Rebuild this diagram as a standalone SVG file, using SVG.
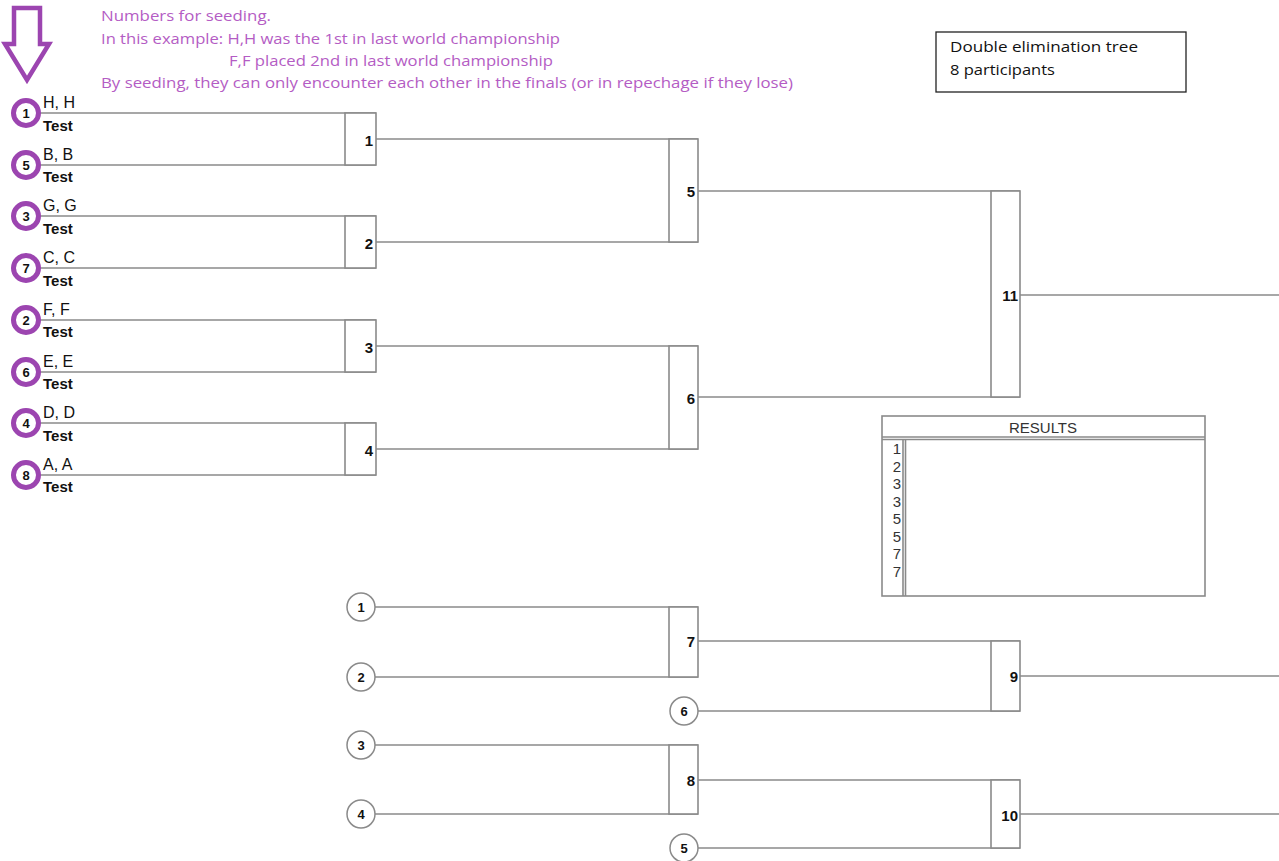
<svg xmlns="http://www.w3.org/2000/svg" width="1279" height="861" viewBox="0 0 1279 861">
<style>
.ln{stroke:#8a8a8a;stroke-width:1.6;fill:none}
.bx{stroke:#8a8a8a;stroke-width:1.6;fill:#fff}
.num{font-family:"Liberation Sans",Arial,sans-serif;font-weight:bold;font-size:15px;fill:#111}
.nm{font-family:"Liberation Sans",Arial,sans-serif;font-size:16px;fill:#111}
.ts{font-family:"Liberation Sans",Arial,sans-serif;font-size:15px;font-weight:bold;fill:#111}
.seed{stroke:#9c45b0;stroke-width:5;fill:#fff}
.sn{font-family:"Liberation Sans",Arial,sans-serif;font-size:13px;font-weight:bold;fill:#111;text-anchor:middle}
.lc{stroke:#8a8a8a;stroke-width:1.5;fill:#fff}
.note{font-family:"Open Sans","Liberation Sans",sans-serif;font-size:15px;fill:#b45cc4}
.info{font-family:"Open Sans","Liberation Sans",sans-serif;font-size:15px;fill:#111}
.res{font-family:"Liberation Sans",Arial,sans-serif;font-size:15px;fill:#333}
</style>
<rect width="1279" height="861" fill="#fff"/>
<g id="annotation">
<polygon points="14,8 40,8 40,44 49,44 27,80 5,44 14,44" fill="none" stroke="#9c45b0" stroke-width="4.5" stroke-linejoin="miter"/>
<text class="note" x="101" y="21" textLength="170" lengthAdjust="spacingAndGlyphs">Numbers for seeding.</text>
<text class="note" x="101" y="44" textLength="459" lengthAdjust="spacingAndGlyphs">In this example: H,H was the 1st in last world championship</text>
<text class="note" x="229" y="66" textLength="324" lengthAdjust="spacingAndGlyphs">F,F placed 2nd in last world championship</text>
<text class="note" x="101" y="88" textLength="692" lengthAdjust="spacingAndGlyphs">By seeding, they can only encounter each other in the finals (or in repechage if they lose)</text>
</g>
<g id="info-box">
<rect x="936" y="32" width="250" height="60" fill="#fff" stroke="#222" stroke-width="1.3"/>
<text class="info" x="950" y="52" textLength="188" lengthAdjust="spacingAndGlyphs">Double elimination tree</text>
<text class="info" x="950" y="75" textLength="105" lengthAdjust="spacingAndGlyphs">8 participants</text>
</g>
<g id="connectors">
<path class="ln" d="M37,113 H376 M37,165 H376 M37,216 H376 M37,268 H376 M37,320 H376 M37,372 H376 M37,423 H376 M37,475 H376"/>
<path class="ln" d="M376,139 H698 M376,242 H698 M376,346 H698 M376,449 H698"/>
<path class="ln" d="M698,191 H1020 M698,397 H1020"/>
<path class="ln" d="M1020,295 H1279"/>
<path class="ln" d="M375,607 H698 M375,677 H698 M375,745 H698 M375,814 H698"/>
<path class="ln" d="M698,641 H1020 M698,711 H1020 M698,780 H1020 M698,848 H1020"/>
<path class="ln" d="M1020,676 H1279 M1020,814 H1279"/>
</g>
<g id="match-1"><rect class="bx" x="345" y="113" width="31" height="52"/><text class="num" x="373" y="146" text-anchor="end">1</text></g>
<g id="match-2"><rect class="bx" x="345" y="216" width="31" height="52"/><text class="num" x="373" y="249" text-anchor="end">2</text></g>
<g id="match-3"><rect class="bx" x="345" y="320" width="31" height="52"/><text class="num" x="373" y="353" text-anchor="end">3</text></g>
<g id="match-4"><rect class="bx" x="345" y="423" width="31" height="52"/><text class="num" x="373" y="456" text-anchor="end">4</text></g>
<g id="match-5"><rect class="bx" x="669" y="139" width="29" height="103"/><text class="num" x="695" y="197" text-anchor="end">5</text></g>
<g id="match-6"><rect class="bx" x="669" y="346" width="29" height="103"/><text class="num" x="695" y="404" text-anchor="end">6</text></g>
<g id="match-11"><rect class="bx" x="991" y="191" width="29" height="206"/><text class="num" x="1018" y="301" text-anchor="end">11</text></g>
<g id="match-7"><rect class="bx" x="669" y="607" width="29" height="70"/><text class="num" x="695" y="647" text-anchor="end">7</text></g>
<g id="match-8"><rect class="bx" x="669" y="745" width="29" height="69"/><text class="num" x="695" y="786" text-anchor="end">8</text></g>
<g id="match-9"><rect class="bx" x="991" y="641" width="29" height="70"/><text class="num" x="1018" y="682" text-anchor="end">9</text></g>
<g id="match-10"><rect class="bx" x="991" y="780" width="29" height="68"/><text class="num" x="1018" y="821" text-anchor="end">10</text></g>
<g id="player-1"><circle class="seed" cx="26" cy="113" r="12.5"/><text class="sn" x="26" y="118">1</text><text class="nm" x="43" y="108">H, H</text><text class="ts" x="43" y="131">Test</text></g>
<g id="player-5"><circle class="seed" cx="26" cy="165" r="12.5"/><text class="sn" x="26" y="170">5</text><text class="nm" x="43" y="160">B, B</text><text class="ts" x="43" y="182">Test</text></g>
<g id="player-3"><circle class="seed" cx="26" cy="216" r="12.5"/><text class="sn" x="26" y="221">3</text><text class="nm" x="43" y="211">G, G</text><text class="ts" x="43" y="234">Test</text></g>
<g id="player-7"><circle class="seed" cx="26" cy="268" r="12.5"/><text class="sn" x="26" y="273">7</text><text class="nm" x="43" y="263">C, C</text><text class="ts" x="43" y="286">Test</text></g>
<g id="player-2"><circle class="seed" cx="26" cy="320" r="12.5"/><text class="sn" x="26" y="325">2</text><text class="nm" x="43" y="315">F, F</text><text class="ts" x="43" y="337">Test</text></g>
<g id="player-6"><circle class="seed" cx="26" cy="372" r="12.5"/><text class="sn" x="26" y="377">6</text><text class="nm" x="43" y="367">E, E</text><text class="ts" x="43" y="389">Test</text></g>
<g id="player-4"><circle class="seed" cx="26" cy="423" r="12.5"/><text class="sn" x="26" y="428">4</text><text class="nm" x="43" y="418">D, D</text><text class="ts" x="43" y="441">Test</text></g>
<g id="player-8"><circle class="seed" cx="26" cy="475" r="12.5"/><text class="sn" x="26" y="480">8</text><text class="nm" x="43" y="470">A, A</text><text class="ts" x="43" y="492">Test</text></g>
<g id="loser-1"><circle class="lc" cx="361" cy="607" r="14"/><text class="sn" x="361" y="612">1</text></g>
<g id="loser-2"><circle class="lc" cx="361" cy="677" r="14"/><text class="sn" x="361" y="682">2</text></g>
<g id="loser-3"><circle class="lc" cx="361" cy="745" r="14"/><text class="sn" x="361" y="750">3</text></g>
<g id="loser-4"><circle class="lc" cx="361" cy="814" r="14"/><text class="sn" x="361" y="819">4</text></g>
<g id="loser-6"><circle class="lc" cx="684" cy="711" r="14"/><text class="sn" x="684" y="716">6</text></g>
<g id="loser-5"><circle class="lc" cx="684" cy="848" r="14"/><text class="sn" x="684" y="853">5</text></g>
<g id="results">
<rect x="882" y="416" width="323" height="180" fill="#fff" stroke="#8a8a8a" stroke-width="1.6"/>
<path class="ln" d="M882,437 H1205 M882,439.5 H1205 M903,439.5 V596 M905.5,439.5 V596"/>
<text class="res" x="1043" y="433" text-anchor="middle" font-size="16">RESULTS</text>
<text class="res" x="901" y="454" text-anchor="end">1</text>
<text class="res" x="901" y="472" text-anchor="end">2</text>
<text class="res" x="901" y="489" text-anchor="end">3</text>
<text class="res" x="901" y="507" text-anchor="end">3</text>
<text class="res" x="901" y="524" text-anchor="end">5</text>
<text class="res" x="901" y="542" text-anchor="end">5</text>
<text class="res" x="901" y="559" text-anchor="end">7</text>
<text class="res" x="901" y="577" text-anchor="end">7</text>
</g>
</svg>
